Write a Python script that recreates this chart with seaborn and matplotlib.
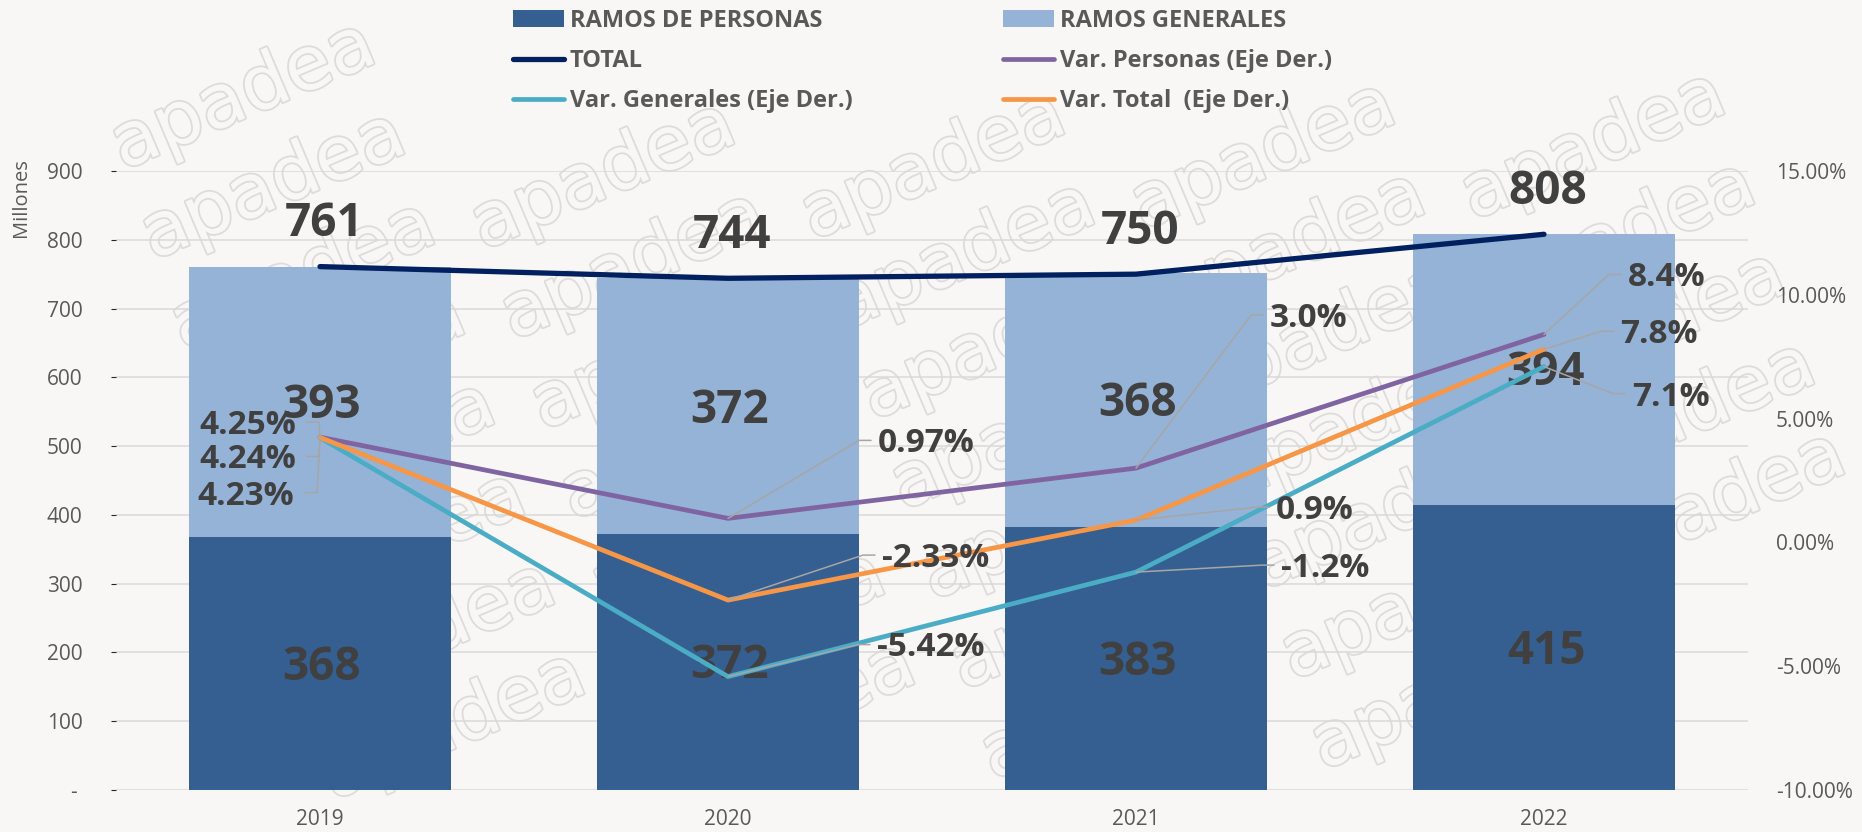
import numpy as np
import pandas as pd
import matplotlib
matplotlib.use("Agg")
import matplotlib.pyplot as plt
import matplotlib.patheffects as pe
from matplotlib.lines import Line2D
import seaborn as sns

# ---------------- data ----------------
years = ["2019", "2020", "2021", "2022"]
ramos_personas = [368, 372, 383, 415]
ramos_generales = [393, 372, 368, 394]
total = [761, 744, 750, 808]
var_personas = [4.25, 0.97, 3.0, 8.4]
var_generales = [4.23, -5.42, -1.2, 7.1]
var_total = [4.24, -2.33, 0.9, 7.8]
pct_decimals = [2, 2, 1, 1]

left_ticks = [0, 100, 200, 300, 400, 500, 600, 700, 800, 900]
left_tick_labels = ["- ", "100", "200", "300", "400", "500", "600", "700", "800", "900"]
right_ticks = [-10, -5, 0, 5, 10, 15]
right_tick_labels = ["-10.00%", "-5.00%", "0.00%", "5.00%", "10.00%", "15.00%"]

lbl_personas = "RAMOS DE PERSONAS"
lbl_generales = "RAMOS GENERALES"
lbl_total = "TOTAL"
lbl_vp = "Var. Personas (Eje Der.)"
lbl_vg = "Var. Generales (Eje Der.)"
lbl_vt = "Var. Total  (Eje Der.)"

# ---------------- style ----------------
BG = "#F8F7F5"
DARK = "#355F91"
LIGHT = "#95B3D7"
NAVY = "#002060"
PURPLE = "#8064A2"
TEAL = "#4BACC6"
ORANGE = "#F79646"
TXT = "#404040"
TICK = "#595959"
GRID = "#D9D9D9"
LEADER = "#A6A6A6"

sns.set_style("white")
plt.rcParams["font.family"] = ["Open Sans", "DejaVu Sans"]

W, H, DPI = 1862, 832, 100
fig = plt.figure(figsize=(W / DPI, H / DPI), dpi=DPI, facecolor=BG)

# watermark (background decoration), only whole words kept
ax_left, ax_right, ax_top, ax_bottom = 116, 1748, 171, 790
avec = np.array([330.0, -10.0])
bvec = np.array([30.0, 90.0])
origin = np.array([93.0, 80.0])
wm = []
for i in range(-3, 8):
    for j in range(-6, 14):
        p = origin + i * avec + j * bvec
        if -350 < p[0] < W + 50 and -60 < p[1] < H + 160:
            t = fig.text(p[0] / W, 1 - p[1] / H, "apadea", rotation=23,
                         rotation_mode="anchor", ha="left", va="baseline",
                         fontsize=54, family="DejaVu Sans", color=BG, zorder=-5,
                         path_effects=[pe.Stroke(linewidth=2.6, foreground="#DEDCDA"),
                                       pe.Normal()])
            wm.append(t)
fig.canvas.draw()
_r = fig.canvas.get_renderer()
for t in wm:
    bb = t.get_window_extent(_r)
    if bb.x0 < 1 or bb.y0 < 1 or bb.x1 > W - 1 or bb.y1 > H - 1:
        t.remove()

ax = fig.add_axes([ax_left / W, 1 - ax_bottom / H,
                   (ax_right - ax_left) / W, (ax_bottom - ax_top) / H])
ax.set_facecolor("none")

df = pd.DataFrame({"year": years,
                   "personas": ramos_personas,
                   "stack_top": np.add(ramos_personas, ramos_generales)})

sns.barplot(data=df, x="year", y="stack_top", color=LIGHT, width=0.644,
            saturation=1, linewidth=0, errorbar=None, ax=ax, zorder=2)
sns.barplot(data=df, x="year", y="personas", color=DARK, width=0.644,
            saturation=1, linewidth=0, errorbar=None, ax=ax, zorder=2)
h_generales = ax.containers[0]
h_personas = ax.containers[1]

pos = np.arange(len(years))
sns.lineplot(x=pos, y=total, color=NAVY, linewidth=3.8, sort=False,
             legend=False, ax=ax, zorder=4)
h_total = ax.lines[-1]
h_total.set_solid_capstyle("round")
h_total.set_solid_joinstyle("round")

ax.set_xlim(-0.5, len(years) - 0.5)
ax.set_ylim(0, 900)
ax.set_yticks(left_ticks)
ax.set_yticklabels(left_tick_labels)
ax.set_xlabel("")
ax.set_ylabel("")
ax.set_axisbelow(True)
ax.yaxis.grid(True, color=GRID, linewidth=1.1, zorder=0)
ax.xaxis.grid(False)
for s in ax.spines.values():
    s.set_visible(False)
ax.tick_params(axis="y", left=False, labelsize=15, labelcolor=TICK, pad=20.5)
ax.tick_params(axis="x", bottom=False, labelsize=15, labelcolor=TICK, pad=10.5)

ax2 = ax.twinx()
ax2.set_facecolor("none")
ax2.set_ylim(-10, 15)
sns.lineplot(x=pos, y=var_personas, color=PURPLE, linewidth=3.4, sort=False,
             legend=False, ax=ax2, zorder=3)
h_vp = ax2.lines[-1]
sns.lineplot(x=pos, y=var_generales, color=TEAL, linewidth=3.4, sort=False,
             legend=False, ax=ax2, zorder=3)
h_vg = ax2.lines[-1]
sns.lineplot(x=pos, y=var_total, color=ORANGE, linewidth=3.4, sort=False,
             legend=False, ax=ax2, zorder=3)
h_vt = ax2.lines[-1]
for ln in (h_vp, h_vg, h_vt):
    ln.set_solid_capstyle("round")
    ln.set_solid_joinstyle("round")
ax2.set_yticks(right_ticks)
ax2.set_yticklabels(right_tick_labels)
ax2.set_ylabel("")
ax2.grid(False)
for s in ax2.spines.values():
    s.set_visible(False)
ax2.tick_params(axis="y", right=False, labelsize=15, labelcolor=TICK, pad=16.5)
ax2.set_xlim(-0.5, len(years) - 0.5)

# ---------------- data labels ----------------
CAP = 0.714  # cap height / em for Open Sans


def baseline_off(center_off_px, size_pt):
    """offset (display px, up positive) of baseline for a visual-center offset"""
    return center_off_px - CAP * size_pt * DPI / 72 / 2


BIG = 33
for i in range(len(years)):
    ax.annotate(str(total[i]), xy=(pos[i], total[i]), xytext=(4, baseline_off(47, BIG)),
                textcoords="offset pixels", ha="center", va="baseline",
                fontsize=BIG, fontweight="bold", color=TXT, zorder=6)
    ax.annotate(str(ramos_personas[i]), xy=(pos[i], ramos_personas[i] / 2),
                xytext=(2, baseline_off(0, BIG)), textcoords="offset pixels",
                ha="center", va="baseline", fontsize=BIG, fontweight="bold",
                color=TXT, zorder=3)
    ax.annotate(str(ramos_generales[i]),
                xy=(pos[i], ramos_personas[i] + ramos_generales[i] / 2),
                xytext=(2, baseline_off(0, BIG)), textcoords="offset pixels",
                ha="center", va="baseline", fontsize=BIG, fontweight="bold",
                color=TXT, zorder=3)

PCT = 24
pct_offsets = {
    "personas": [(-24, -15), (150, -78), (134, -153), (84, -60)],
    "generales": [(-26, 55), (149, -32), (145, -7), (88, 27)],
    "total": [(-24, 19), (154, -45), (140, -13), (76, -18)],
}
series = {"personas": var_personas, "generales": var_generales, "total": var_total}

fig.canvas.draw()
inv = fig.transFigure.inverted()
for key, vals in series.items():
    for i, v in enumerate(vals):
        dx, dy_img = pct_offsets[key][i]
        txt = f"{v:.{pct_decimals[i]}f}%"
        ha = "right" if dx < 0 else "left"
        ax2.annotate(txt, xy=(pos[i], v), xytext=(dx, baseline_off(-dy_img, PCT)),
                     textcoords="offset pixels", ha=ha, va="baseline",
                     fontsize=PCT, fontweight="bold", color=TXT, zorder=7,
                     annotation_clip=False)
        px, py = ax2.transData.transform((pos[i], v))
        ty = py - dy_img
        if dx < 0:
            end_x = px + dx + 11
            elbow_x = end_x + 12
        else:
            end_x = px + dx - 7
            elbow_x = end_x - 12
        pts = inv.transform([(px, py), (elbow_x, ty), (end_x, ty)])
        fig.add_artist(Line2D(pts[:, 0], pts[:, 1], color=LEADER, linewidth=1.1,
                              transform=fig.transFigure, zorder=8))

# ---------------- legend ----------------
LFS = 17
fs_px = LFS * DPI / 72
common = dict(loc="upper left", frameon=False, borderpad=0, borderaxespad=0,
              handlelength=51 / fs_px, handletextpad=6 / fs_px,
              labelspacing=16 / fs_px, handleheight=0.75,
              prop=dict(family=["Open Sans", "DejaVu Sans"], weight="bold", size=LFS),
              labelcolor=TICK)
leg1 = fig.legend([h_personas, h_total, h_vg], [lbl_personas, lbl_total, lbl_vg],
                  bbox_to_anchor=(513 / W, 1 - 9 / H), **common)
leg2 = fig.legend([h_generales, h_vp, h_vt], [lbl_generales, lbl_vp, lbl_vt],
                  bbox_to_anchor=(1003 / W, 1 - 9 / H), **common)

fig.text(21 / W, 1 - 198 / H, "Millones", rotation=90, ha="center", va="center",
         fontsize=14.5, color=TICK)

fig.savefig("out.png", dpi=DPI, facecolor=BG)
